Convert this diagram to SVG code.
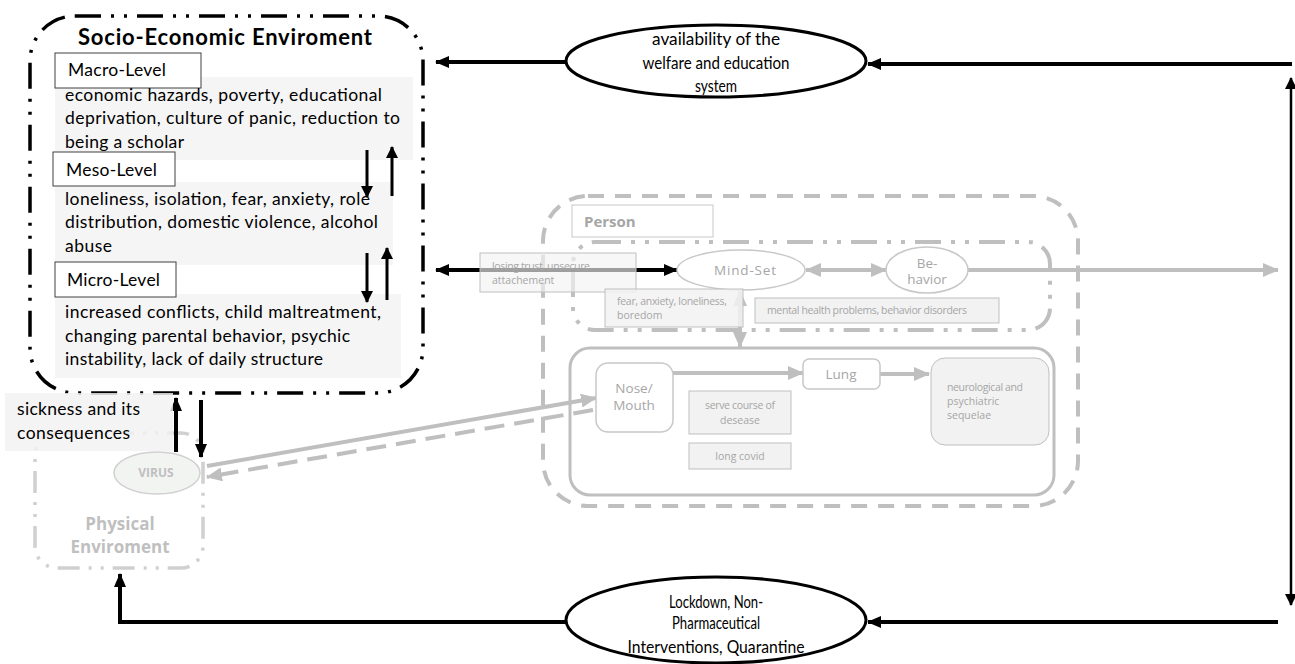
<svg xmlns="http://www.w3.org/2000/svg" width="1295" height="664" viewBox="0 0 1295 664">
  <style>
    .txt { font-family: Lato, "Open Sans", "Liberation Sans", sans-serif; font-size: 17.5px; fill: #000; }
    .title { font-family: Lato, "Liberation Sans", sans-serif; font-size: 22px; font-weight: bold; fill: #000; }
    .oval { font-family: Lato, "Liberation Sans", sans-serif; font-size: 17px; fill: #000; }
    .gtxt { font-family: "Open Sans", "Liberation Sans", sans-serif; font-size: 10.5px; fill: #a6a6a6; }
    .gmid { font-family: "Open Sans", "Liberation Sans", sans-serif; font-size: 13.5px; fill: #a6a6a6; }
    .gbold { font-family: "Open Sans", "Liberation Sans", sans-serif; font-weight: bold; fill: #bfbfbf; }
    .levelbox { fill: #fff; stroke: #404040; stroke-width: 1; }
    .levelbg { fill: #f5f5f5; }
    .gbox { fill: #f2f2f2; stroke: #bfbfbf; stroke-width: 1; }
    .blk { stroke: #000; stroke-width: 4; fill: none; }
    .blk3 { stroke: #000; stroke-width: 3; fill: none; }
    .gry { stroke: #bfbfbf; stroke-width: 4; fill: none; }
  </style>
  <defs>
    <marker id="hb" markerUnits="userSpaceOnUse" markerWidth="14" markerHeight="12" refX="13" refY="6" orient="auto-start-reverse">
      <path d="M0,0 L14,6 L0,12 z" fill="#000"/>
    </marker>
    <marker id="hbs" markerUnits="userSpaceOnUse" markerWidth="12" markerHeight="12" refX="11" refY="6" orient="auto-start-reverse">
      <path d="M0,0 L12,6 L0,12 z" fill="#000"/>
    </marker>
    <marker id="hg" markerUnits="userSpaceOnUse" markerWidth="16" markerHeight="14" refX="15" refY="7" orient="auto-start-reverse">
      <path d="M0,0 L16,7 L0,14 z" fill="#bfbfbf"/>
    </marker>
  </defs>

  <!-- containers -->
  <g id="socio-economic">
    <rect x="30" y="16" width="393" height="377" rx="45" fill="none" stroke="#000" stroke-width="3.5" stroke-dasharray="26 10 3 10 3 10"/>
    <text class="title" x="78" y="45" textLength="294">Socio-Economic Enviroment</text>

    <rect class="levelbg" x="55" y="77" width="358" height="83"/>
    <rect class="levelbox" x="55" y="53" width="146" height="35"/>
    <text class="txt" x="68" y="76" textLength="98">Macro-Level</text>
    <text class="txt" x="65" y="101" textLength="317">economic hazards, poverty, educational</text>
    <text class="txt" x="65" y="124" textLength="335">deprivation, culture of panic, reduction to</text>
    <text class="txt" x="65" y="148" textLength="119">being a scholar</text>

    <rect class="levelbg" x="55" y="182" width="338" height="83"/>
    <rect class="levelbox" x="53" y="152" width="122" height="34"/>
    <text class="txt" x="66" y="176" textLength="91">Meso-Level</text>
    <text class="txt" x="65" y="205" textLength="305">loneliness, isolation, fear, anxiety, role</text>
    <text class="txt" x="65" y="228" textLength="313">distribution, domestic violence, alcohol</text>
    <text class="txt" x="65" y="252" textLength="47">abuse</text>

    <rect class="levelbg" x="55" y="294" width="346" height="84"/>
    <rect class="levelbox" x="55" y="262" width="121" height="35"/>
    <text class="txt" x="67" y="286" textLength="93">Micro-Level</text>
    <text class="txt" x="65" y="318" textLength="316">increased conflicts, child maltreatment,</text>
    <text class="txt" x="65" y="342" textLength="285">changing parental behavior, psychic</text>
    <text class="txt" x="65" y="365" textLength="258">instability, lack of daily structure</text>
  </g>

  <g id="physical-environment">
    <rect x="35" y="433" width="168" height="135" rx="22" fill="none" stroke="#d0d0d0" stroke-width="3.5" stroke-dasharray="22 9 3 9 3 9"/>
    <text class="gbold" x="120" y="530" font-size="17" text-anchor="middle">Physical</text>
    <text class="gbold" x="120" y="553" font-size="17" text-anchor="middle">Enviroment</text>
  </g>

  <g id="person">
    <rect x="543" y="196" width="535" height="310" rx="45" fill="none" stroke="#bfbfbf" stroke-width="4" stroke-dasharray="16 11"/>
    <rect x="572" y="205" width="141" height="32" fill="#fff" stroke="#c8c8c8" stroke-width="1"/>
    <text class="gbold" x="584" y="227" font-size="15" style="fill:#a6a6a6">Person</text>
  </g>

  <g id="mind-level">
    <rect x="573" y="242" width="477" height="88" rx="22" fill="none" stroke="#bfbfbf" stroke-width="4" stroke-dasharray="26 10 4 10 4 10"/>
  </g>

  <g id="body-level">
    <rect x="570" y="348" width="484" height="147" rx="20" fill="none" stroke="#bfbfbf" stroke-width="3"/>
  </g>

  <!-- connectors -->
  <g id="connectors">
    <path class="blk" d="M1292,64 H868" marker-end="url(#hb)"/>
    <path class="blk" d="M566,62 H436" marker-end="url(#hb)"/>
    <path d="M1291,605 V78" stroke="#000" stroke-width="2.5" fill="none" marker-start="url(#hbs)" marker-end="url(#hbs)"/>
    <path class="blk" d="M1278,622 H868" marker-end="url(#hb)"/>
    <path class="blk" d="M566,622 H120 V574" marker-end="url(#hb)"/>
    <path class="blk" d="M436,270 H677" marker-start="url(#hb)" marker-end="url(#hb)"/>

    <path class="blk3" d="M367,150 V197" marker-end="url(#hbs)"/>
    <path class="blk3" d="M392,196 V147" marker-end="url(#hbs)"/>
    <path class="blk3" d="M367,253 V302" marker-end="url(#hbs)"/>
    <path class="blk3" d="M387,300 V248" marker-end="url(#hbs)"/>

    <path class="blk" d="M176,452 V398" marker-end="url(#hb)"/>
    <path class="blk" d="M201,400 V457" marker-end="url(#hb)"/>

    <path class="gry" d="M207,466 L596,398" marker-end="url(#hg)"/>
    <path class="gry" d="M593,410 L207,477" stroke-dasharray="20 10" marker-end="url(#hg)"/>
    <path class="gry" d="M806,270 H886" marker-start="url(#hg)" marker-end="url(#hg)"/>
    <path class="gry" d="M968,270 H1278" marker-end="url(#hg)"/>
    <path class="gry" d="M740,291 V347" marker-start="url(#hg)" marker-end="url(#hg)"/>
    <path class="gry" d="M673,373 H803" marker-end="url(#hg)"/>
    <path class="gry" d="M880,374 H929" marker-end="url(#hg)"/>
  </g>

  <!-- nodes -->
  <g id="welfare">
    <ellipse cx="716" cy="61" rx="150" ry="36" fill="#fff" stroke="#000" stroke-width="3"/>
    <text class="oval" x="716" y="45" text-anchor="middle" textLength="128" lengthAdjust="spacingAndGlyphs">availability of the</text>
    <text class="oval" x="716" y="69" text-anchor="middle" textLength="147" lengthAdjust="spacingAndGlyphs">welfare and education</text>
    <text class="oval" x="716" y="92" text-anchor="middle" textLength="42" lengthAdjust="spacingAndGlyphs">system</text>
  </g>

  <g id="lockdown">
    <ellipse cx="716" cy="620" rx="150" ry="43" fill="#fff" stroke="#000" stroke-width="3"/>
    <text class="oval" x="716" y="608" text-anchor="middle" textLength="94" lengthAdjust="spacingAndGlyphs">Lockdown, Non-</text>
    <text class="oval" x="716" y="629" text-anchor="middle" textLength="88" lengthAdjust="spacingAndGlyphs">Pharmaceutical</text>
    <text class="oval" x="716" y="653" text-anchor="middle" textLength="177" lengthAdjust="spacingAndGlyphs">Interventions, Quarantine</text>
  </g>

  <g id="sickness">
    <rect x="5" y="393" width="168" height="58" fill="#f2f2f2" fill-opacity="0.82"/>
    <text class="txt" x="17" y="415" textLength="123">sickness and its</text>
    <text class="txt" x="17" y="439" textLength="113">consequences</text>
  </g>

  <g id="virus">
    <ellipse cx="157" cy="473" rx="43" ry="21" fill="#f2f4f2" stroke="#d0d0d0" stroke-width="1.5"/>
    <text class="gbold" x="156" y="477" font-size="12" text-anchor="middle">VIRUS</text>
  </g>

  <g id="losing-trust">
    <rect x="480" y="253" width="156" height="39" fill="#f2f2f2" fill-opacity="0.65" stroke="#bfbfbf" stroke-width="1"/>
    <text class="gtxt" x="492" y="270" textLength="98">losing trust, unsecure</text>
    <text class="gtxt" x="492" y="284">attachement</text>
  </g>

  <g id="mind-set">
    <ellipse cx="741" cy="270" rx="64" ry="20" fill="#fff" stroke="#c8c8c8" stroke-width="1.5"/>
    <text class="gmid" x="745" y="275" text-anchor="middle" textLength="62">Mind-Set</text>
  </g>

  <g id="behavior">
    <ellipse cx="927" cy="270" rx="41" ry="23" fill="#fff" stroke="#c8c8c8" stroke-width="1.5"/>
    <text class="gmid" x="927" y="268" text-anchor="middle" font-size="12.5">Be-</text>
    <text class="gmid" x="927" y="284" text-anchor="middle" font-size="12.5">havior</text>
  </g>

  <g id="fear">
    <rect x="605" y="289" width="138" height="38" fill="#f2f2f2" fill-opacity="0.85" stroke="#bfbfbf" stroke-width="1"/>
    <text class="gtxt" x="617" y="305" textLength="110">fear, anxiety, loneliness,</text>
    <text class="gtxt" x="617" y="319">boredom</text>
  </g>

  <g id="mental-health">
    <rect x="755" y="298" width="244" height="25" class="gbox"/>
    <text class="gtxt" x="767" y="314" textLength="200">mental health problems, behavior disorders</text>
  </g>

  <g id="nose-mouth">
    <rect x="596" y="363" width="77" height="69" rx="12" fill="#fff" stroke="#c8c8c8" stroke-width="1.5"/>
    <text class="gmid" x="634" y="393" text-anchor="middle" font-size="13">Nose/</text>
    <text class="gmid" x="634" y="410" text-anchor="middle" font-size="13">Mouth</text>
  </g>

  <g id="lung">
    <rect x="803" y="359" width="77" height="30" rx="6" fill="#fff" stroke="#c8c8c8" stroke-width="1.5"/>
    <text class="gmid" x="841" y="379" text-anchor="middle" font-size="13">Lung</text>
  </g>

  <g id="severe-course">
    <rect x="689" y="391" width="102" height="43" class="gbox"/>
    <text class="gtxt" x="740" y="409" text-anchor="middle" textLength="70">serve course of</text>
    <text class="gtxt" x="740" y="424" text-anchor="middle">desease</text>
  </g>

  <g id="long-covid">
    <rect x="689" y="443" width="102" height="26" class="gbox"/>
    <text class="gtxt" x="740" y="460" text-anchor="middle">long covid</text>
  </g>

  <g id="sequelae">
    <rect x="931" y="358" width="118" height="87" rx="14" class="gbox"/>
    <text class="gtxt" x="947" y="391" textLength="76">neurological and</text>
    <text class="gtxt" x="947" y="405">psychiatric</text>
    <text class="gtxt" x="947" y="419">sequelae</text>
  </g>
</svg>
